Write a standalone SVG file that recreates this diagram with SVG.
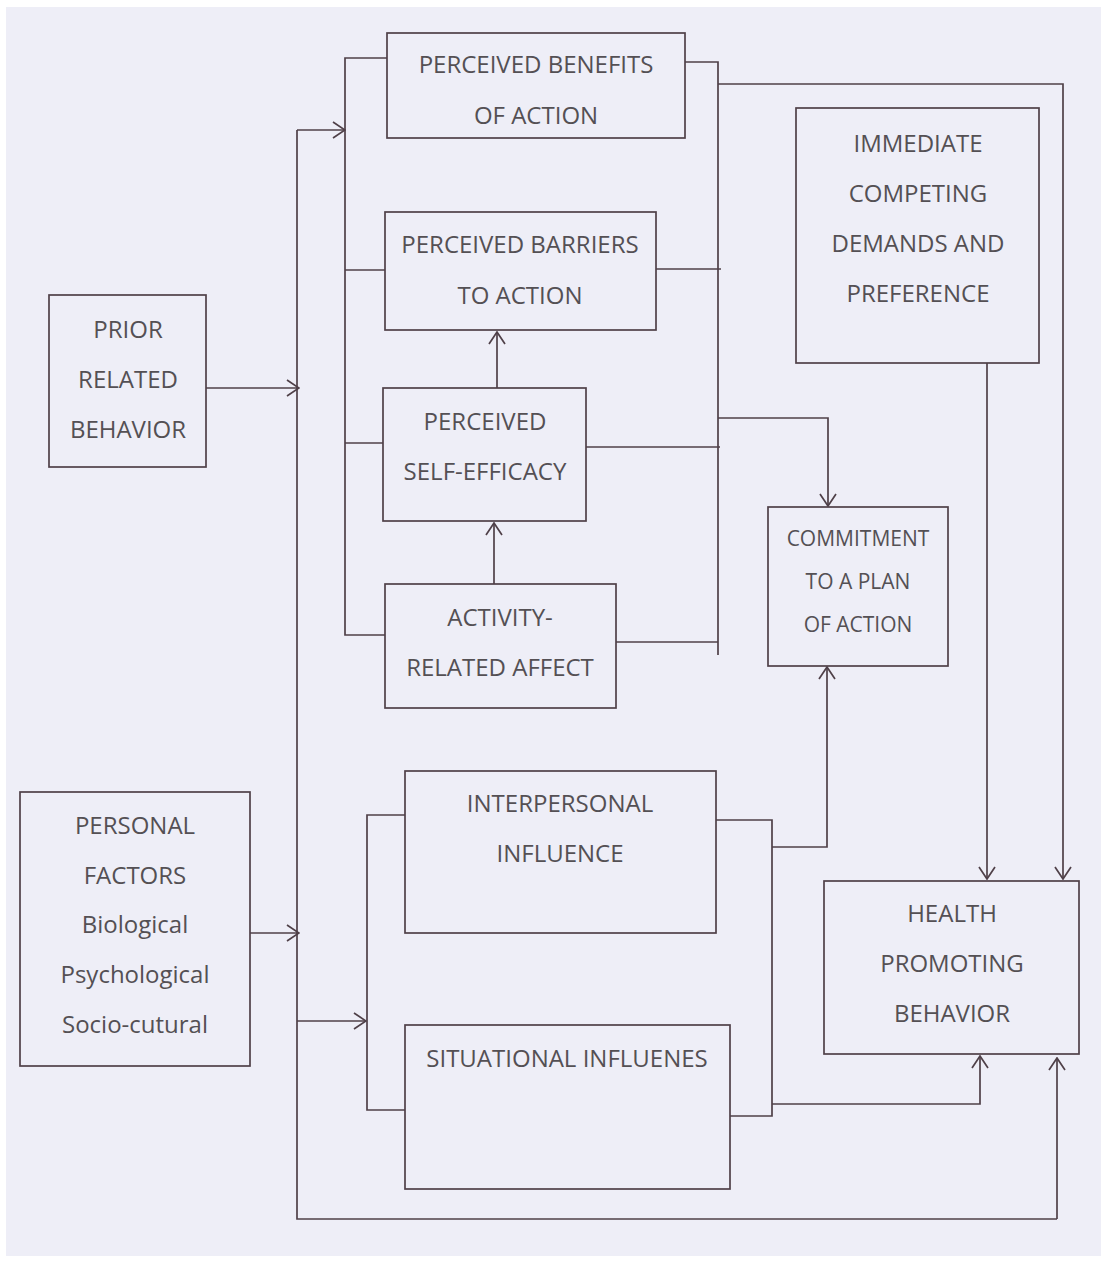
<svg xmlns="http://www.w3.org/2000/svg" width="1109" height="1263" viewBox="0 0 1109 1263">
<defs>
<style>
.bx{fill:none;stroke:#4f4048;stroke-width:1.7}
.ln{fill:none;stroke:#4f4048;stroke-width:1.7}
.ar{marker-end:url(#ah)}
text{font-family:"Open Sans","Noto Sans","DejaVu Sans",sans-serif;font-size:24px;fill:#545054;text-anchor:middle}
.sm{font-size:21px}
</style>
<marker id="ah" viewBox="0 0 14 18" refX="13" refY="9" markerWidth="14" markerHeight="18" markerUnits="userSpaceOnUse" orient="auto">
<path d="M1,1 L13,9 L1,17" fill="none" stroke="#4f4048" stroke-width="1.7"/>
</marker>
</defs>
<rect x="0" y="0" width="1109" height="1263" fill="#ffffff"/>
<rect x="6" y="7" width="1095" height="1249" fill="#eeeef7"/>

<g id="connectors">
<path class="ln ar" d="M297,130 H345"/>
<path class="ln" d="M297,130 V1219 H1057"/>
<path class="ln ar" d="M1057,1219 V1058"/>
<path class="ln ar" d="M206,388 H299"/>
<path class="ln ar" d="M250,933 H299"/>
<path class="ln ar" d="M297,1021 H366"/>
<path class="ln" d="M387,58 H345 V635 H385"/>
<path class="ln" d="M345,270 H385"/>
<path class="ln" d="M345,443 H383"/>
<path class="ln" d="M685,62 H718 V655"/>
<path class="ln" d="M656,269 H721"/>
<path class="ln" d="M586,447 H720"/>
<path class="ln" d="M616,642 H718"/>
<path class="ln ar" d="M718,84 H1063 V879"/>
<path class="ln ar" d="M718,418 H828 V506"/>
<path class="ln ar" d="M987,363 V879"/>
<path class="ln ar" d="M497,388 V332"/>
<path class="ln ar" d="M494,584 V523"/>
<path class="ln" d="M405,815 H367 V1110 H405"/>
<path class="ln" d="M716,820 H772 V1116 H730"/>
<path class="ln ar" d="M772,847 H827 V667"/>
<path class="ln ar" d="M772,1104 H980 V1056"/>
</g>

<g id="benefits">
<rect class="bx" x="387" y="33" width="298" height="105"/>
<text x="536" y="73">PERCEIVED BENEFITS</text>
<text x="536" y="124">OF ACTION</text>
</g>
<g id="barriers">
<rect class="bx" x="385" y="212" width="271" height="118"/>
<text x="520" y="253">PERCEIVED BARRIERS</text>
<text x="520" y="304">TO ACTION</text>
</g>
<g id="selfefficacy">
<rect class="bx" x="383" y="388" width="203" height="133"/>
<text x="485" y="430">PERCEIVED</text>
<text x="485" y="480">SELF-EFFICACY</text>
</g>
<g id="activity">
<rect class="bx" x="385" y="584" width="231" height="124"/>
<text x="500" y="626">ACTIVITY-</text>
<text x="500" y="676">RELATED AFFECT</text>
</g>
<g id="prior">
<rect class="bx" x="49" y="295" width="157" height="172"/>
<text x="128" y="338">PRIOR</text>
<text x="128" y="388">RELATED</text>
<text x="128" y="438">BEHAVIOR</text>
</g>
<g id="personal">
<rect class="bx" x="20" y="792" width="230" height="274"/>
<text x="135" y="834">PERSONAL</text>
<text x="135" y="884">FACTORS</text>
<text x="135" y="933">Biological</text>
<text x="135" y="983">Psychological</text>
<text x="135" y="1033">Socio-cutural</text>
</g>
<g id="interpersonal">
<rect class="bx" x="405" y="771" width="311" height="162"/>
<text x="560" y="812">INTERPERSONAL</text>
<text x="560" y="862">INFLUENCE</text>
</g>
<g id="situational">
<rect class="bx" x="405" y="1025" width="325" height="164"/>
<text x="567" y="1067">SITUATIONAL INFLUENES</text>
</g>
<g id="immediate">
<rect class="bx" x="796" y="108" width="243" height="255"/>
<text x="918" y="152">IMMEDIATE</text>
<text x="918" y="202">COMPETING</text>
<text x="918" y="252">DEMANDS AND</text>
<text x="918" y="302">PREFERENCE</text>
</g>
<g id="commitment">
<rect class="bx" x="768" y="507" width="180" height="159"/>
<text class="sm" x="858" y="546">COMMITMENT</text>
<text class="sm" x="858" y="589">TO A PLAN</text>
<text class="sm" x="858" y="632">OF ACTION</text>
</g>
<g id="health">
<rect class="bx" x="824" y="881" width="255" height="173"/>
<text x="952" y="922">HEALTH</text>
<text x="952" y="972">PROMOTING</text>
<text x="952" y="1022">BEHAVIOR</text>
</g>
</svg>
